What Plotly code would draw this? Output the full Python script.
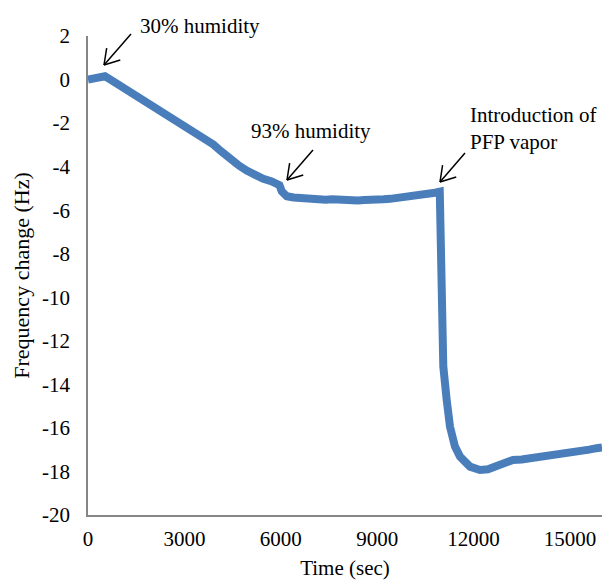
import math
import plotly.graph_objects as go

# ---- data ----
time_sec = [0, 115, 300, 529, 700, 943, 1200, 1463, 1700, 1983, 2250, 2500, 2750,
            3020, 3384, 3650, 3900, 4150, 4420, 4700, 4940, 5200, 5457, 5700, 5874,
            5960, 6030, 6186, 6400, 6600, 6800, 7000, 7200, 7400, 7600, 7800, 8000,
            8200, 8400, 8600, 8800, 9000, 9200, 9400, 9600, 9800, 10000, 10200,
            10400, 10600, 10800, 10950, 10970, 10985, 11000, 11060, 11165, 11268,
            11424, 11580, 11891, 12202, 12450, 12721, 13000, 13230, 13500, 13750,
            14000, 14276, 14550, 14800, 15050, 15315, 15600, 15834, 16000]
freq_change = [0.0, 0.03, 0.05, 0.15, 0.0, -0.23, -0.45, -0.69, -0.9, -1.15, -1.42,
               -1.69, -1.92, -2.15, -2.45, -2.72, -2.98, -3.3, -3.65, -3.95, -4.18,
               -4.4, -4.56, -4.67, -4.75, -4.85, -5.13, -5.36, -5.42, -5.45, -5.47,
               -5.5, -5.48, -5.52, -5.5, -5.53, -5.55, -5.52, -5.55, -5.53, -5.55,
               -5.52, -5.5, -5.48, -5.45, -5.42, -5.38, -5.35, -5.28, -5.25, -5.2,
               -5.15, -8.0, -11.0, -12.1, -13.18, -14.71, -15.94, -16.86, -17.32,
               -17.78, -17.93, -17.9, -17.78, -17.6, -17.47, -17.45, -17.4, -17.38,
               -17.32, -17.28, -17.2, -17.15, -17.09, -17.0, -16.93, -16.9]

x_ticks = [0, 3000, 6000, 9000, 12000, 15000]
y_ticks = list(range(-20, 3, 2))

FONT = "Liberation Serif"
W, H = 605, 586
ML, MR, MT, MB = 88, 3, 36, 71
PW, PH = W - ML - MR, H - MT - MB

fig = go.Figure()
fig.add_trace(go.Scatter(x=time_sec, y=freq_change, mode="lines",
                         line=dict(color="#4a7ebb", width=8), showlegend=False))


def px2paper(px, py):
    return (px - ML) / PW, (H - MB - py) / PH


def arrow(tail, tip, head=17):
    shapes = []
    tx, ty = px2paper(*tail)
    hx, hy = px2paper(*tip)
    shapes.append(dict(type="line", xref="paper", yref="paper", x0=tx, y0=ty, x1=hx, y1=hy,
                       line=dict(color="black", width=1.5)))
    ang = math.atan2(tail[1] - tip[1], tail[0] - tip[0])
    for d in (math.radians(32), -math.radians(32)):
        ex = tip[0] + head * math.cos(ang + d)
        ey = tip[1] + head * math.sin(ang + d)
        x0, y0 = px2paper(ex, ey)
        shapes.append(dict(type="line", xref="paper", yref="paper", x0=x0, y0=y0, x1=hx, y1=hy,
                           line=dict(color="black", width=1.5)))
    return shapes


shapes = []
shapes += arrow((131, 34), (104, 65))
shapes += arrow((313, 150), (287, 180))
shapes += arrow((465, 153), (440, 182))

annots = []
for txt, (px, py) in [("30% humidity", (138, 26)),
                      ("93% humidity", (249, 131)),
                      ("Introduction of<br>PFP vapor", (468, 128))]:
    ax_, ay_ = px2paper(px, py)
    annots.append(dict(text=txt, xref="paper", yref="paper", x=ax_, y=ay_,
                       xanchor="left", yanchor="middle", align="left", showarrow=False,
                       font=dict(family=FONT, size=21, color="black")))

fig.update_layout(
    width=W, height=H,
    margin=dict(l=ML, r=MR, t=MT, b=MB),
    paper_bgcolor="white", plot_bgcolor="white",
    font=dict(family=FONT, size=21, color="black"),
    shapes=shapes, annotations=annots,
    xaxis=dict(range=[0, 16000], tickvals=x_ticks, ticktext=[str(v) for v in x_ticks],
               showgrid=False, zeroline=False, showline=True, linecolor="#868686",
               linewidth=1.5, ticks="", ticklabelstandoff=4, tickfont=dict(size=21),
               title=dict(text="Time (sec)", standoff=10, font=dict(size=21))),
    yaxis=dict(range=[-20, 2], tickvals=y_ticks, ticktext=[str(v) for v in y_ticks],
               showgrid=False, zeroline=False, showline=True, linecolor="#868686",
               linewidth=1.5, ticks="", ticklabelstandoff=12, tickfont=dict(size=21),
               title=dict(text="Frequency change (Hz)", standoff=6, font=dict(size=22))),
)

fig.write_html("out.html")
